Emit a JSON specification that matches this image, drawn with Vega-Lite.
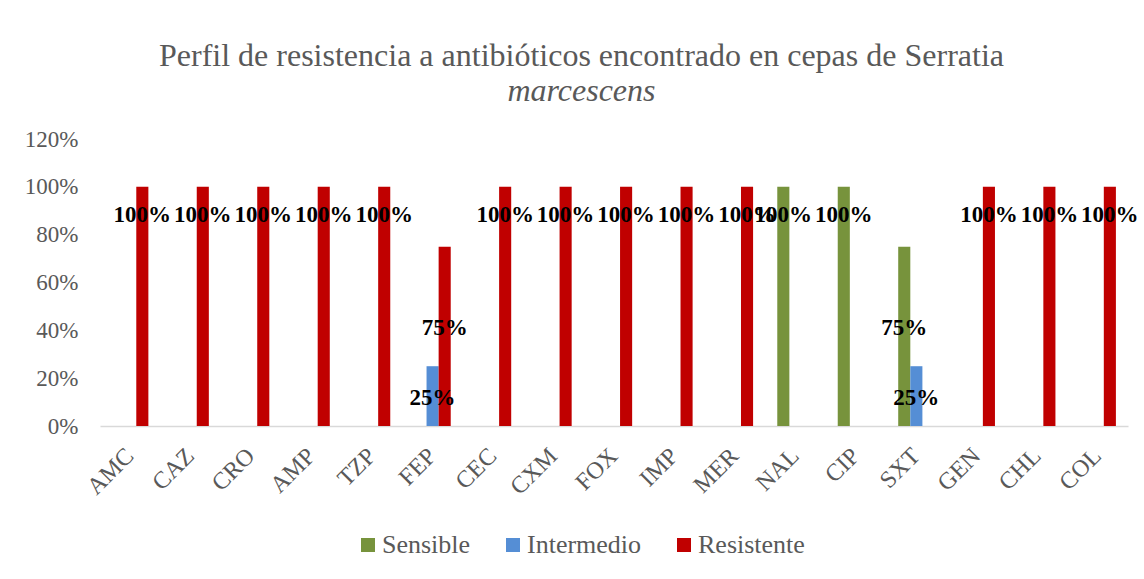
{
  "$schema": "https://vega.github.io/schema/vega-lite/v6.json",
  "width": 1028,
  "height": 287,
  "autosize": {"type": "none"},
  "padding": {"left": 100, "top": 139, "right": 16, "bottom": 153},
  "background": "white",
  "title": {
    "text": "Perfil de resistencia a antibióticos encontrado en cepas de Serratia",
    "subtitle": "marcescens",
    "font": "Liberation Serif",
    "fontSize": 32,
    "fontWeight": "normal",
    "color": "#595959",
    "subtitleFont": "Liberation Serif",
    "subtitleFontSize": 32,
    "subtitleFontStyle": "italic",
    "subtitleColor": "#595959",
    "subtitlePadding": 3,
    "anchor": "middle",
    "frame": "bounds",
    "offset": 20
  },
  "data": {
    "values": [
      {"antibiotico": "AMC", "perfil": "Resistente", "valor": 1.0},
      {"antibiotico": "CAZ", "perfil": "Resistente", "valor": 1.0},
      {"antibiotico": "CRO", "perfil": "Resistente", "valor": 1.0},
      {"antibiotico": "AMP", "perfil": "Resistente", "valor": 1.0},
      {"antibiotico": "TZP", "perfil": "Resistente", "valor": 1.0},
      {"antibiotico": "FEP", "perfil": "Intermedio", "valor": 0.25},
      {"antibiotico": "FEP", "perfil": "Resistente", "valor": 0.75},
      {"antibiotico": "CEC", "perfil": "Resistente", "valor": 1.0},
      {"antibiotico": "CXM", "perfil": "Resistente", "valor": 1.0},
      {"antibiotico": "FOX", "perfil": "Resistente", "valor": 1.0},
      {"antibiotico": "IMP", "perfil": "Resistente", "valor": 1.0},
      {"antibiotico": "MER", "perfil": "Resistente", "valor": 1.0},
      {"antibiotico": "NAL", "perfil": "Sensible", "valor": 1.0},
      {"antibiotico": "CIP", "perfil": "Sensible", "valor": 1.0},
      {"antibiotico": "SXT", "perfil": "Sensible", "valor": 0.75},
      {"antibiotico": "SXT", "perfil": "Intermedio", "valor": 0.25},
      {"antibiotico": "GEN", "perfil": "Resistente", "valor": 1.0},
      {"antibiotico": "CHL", "perfil": "Resistente", "valor": 1.0},
      {"antibiotico": "COL", "perfil": "Resistente", "valor": 1.0}
    ]
  },
  "encoding": {
    "x": {
      "field": "antibiotico",
      "type": "nominal",
      "sort": ["AMC","CAZ","CRO","AMP","TZP","FEP","CEC","CXM","FOX","IMP","MER","NAL","CIP","SXT","GEN","CHL","COL"],
      "scale": {"paddingInner": 0.4, "paddingOuter": 0.2},
      "axis": {
        "title": null,
        "labelAngle": -45,
        "labelAlign": "right",
        "labelBaseline": "middle",
        "labelFont": "Liberation Serif",
        "labelFontSize": 24,
        "labelColor": "#595959",
        "labelPadding": 26,
        "ticks": false,
        "domainColor": "#D9D9D9",
        "domainWidth": 1.5,
        "grid": false
      }
    },
    "xOffset": {
      "field": "perfil",
      "type": "nominal",
      "scale": {"domain": ["Sensible", "Intermedio", "Resistente"], "paddingInner": 0, "paddingOuter": 0}
    }
  },
  "layer": [
    {
      "mark": {"type": "bar"},
      "encoding": {
        "y": {
          "field": "valor",
          "type": "quantitative",
          "scale": {"domain": [0, 1.2], "nice": false},
          "axis": {
            "title": null,
            "format": ".0%",
            "values": [0, 0.2, 0.4, 0.6, 0.8, 1.0, 1.2],
            "labelFont": "Liberation Serif",
            "labelFontSize": 23,
            "labelColor": "#595959",
            "labelPadding": 22,
            "ticks": false,
            "domain": false,
            "grid": false
          }
        },
        "color": {
          "field": "perfil",
          "type": "nominal",
          "scale": {"domain": ["Sensible", "Intermedio", "Resistente"], "range": ["#77933C", "#558ED5", "#C00000"]},
          "legend": {
            "title": null,
            "orient": "none",
            "legendX": 255,
            "legendY": 393,
            "direction": "horizontal",
            "symbolType": "square",
            "symbolSize": 196,
            "symbolStrokeWidth": 0,
            "labelFont": "Liberation Serif",
            "labelFontSize": 26,
            "labelColor": "#595959",
            "labelOffset": 1,
            "columnPadding": 29
          }
        }
      }
    },
    {
      "mark": {"type": "text", "font": "Liberation Serif", "fontSize": 23, "fontWeight": "bold", "color": "black", "baseline": "middle", "align": "center"},
      "encoding": {
        "y": {
          "field": "valor",
          "type": "quantitative",
          "scale": {
            "domain": [0, 0.25, 0.75, 1.0],
            "range": [{"expr": "height"}, {"expr": "height*0.9025"}, {"expr": "height*0.6583"}, {"expr": "height*0.2642"}]
          },
          "axis": null
        },
        "text": {"field": "valor", "type": "quantitative", "format": ".0%"}
      }
    }
  ],
  "resolve": {"scale": {"y": "independent"}},
  "config": {
    "font": "Liberation Serif",
    "view": {"stroke": null},
    "legend": {"labelFont": "Liberation Serif"}
  }
}
